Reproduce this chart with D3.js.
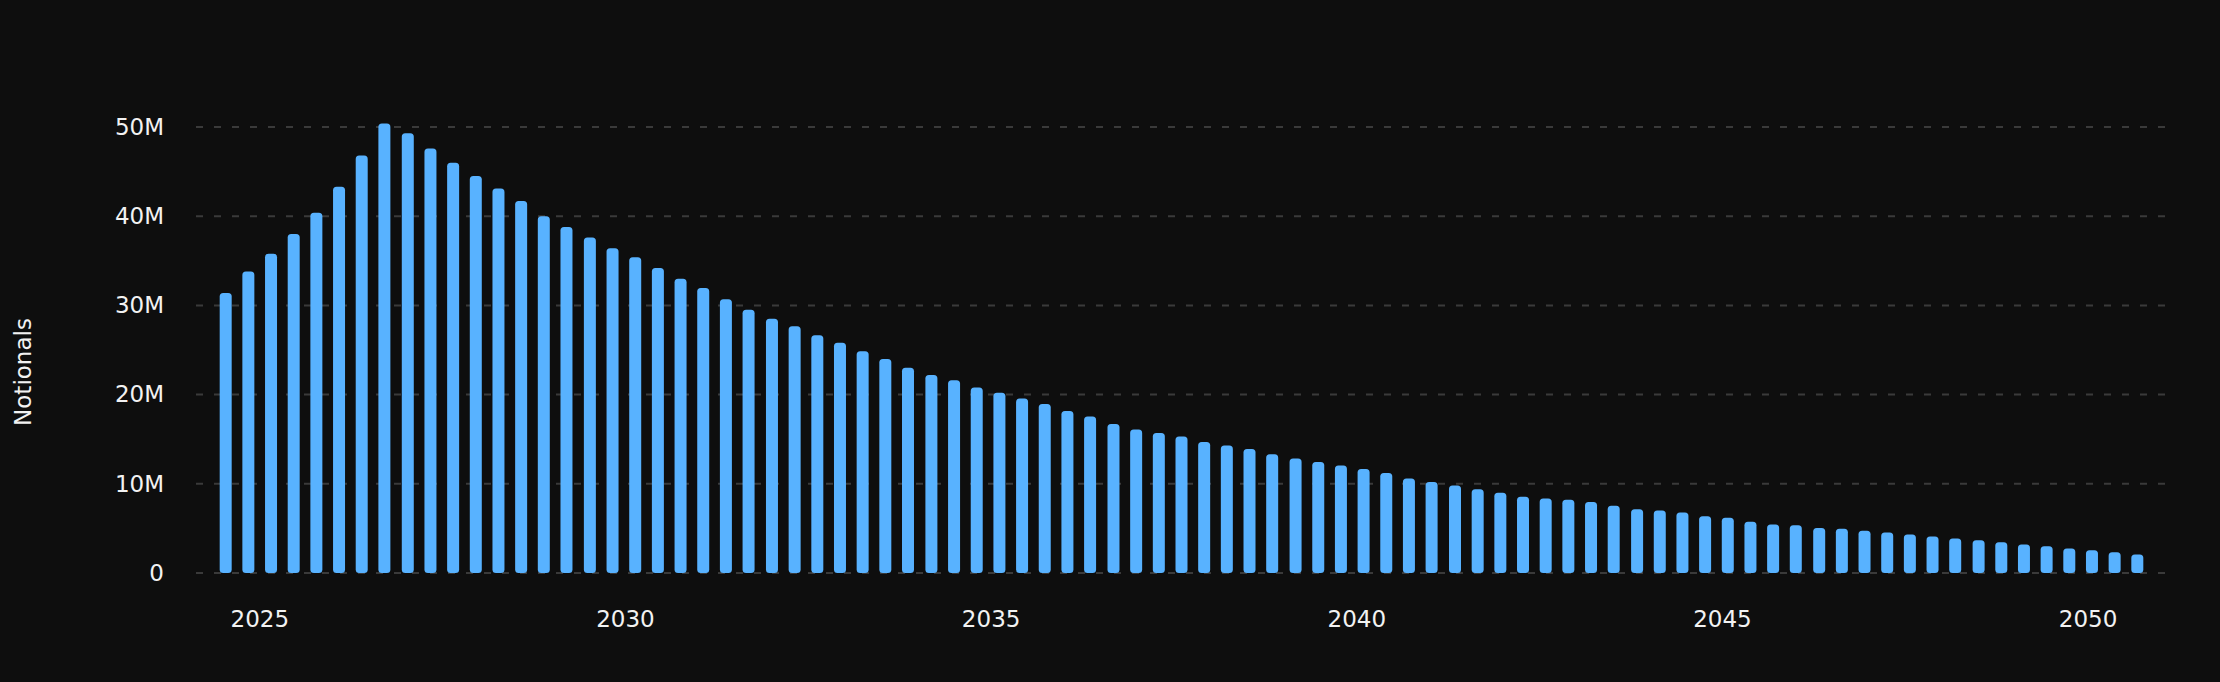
<!DOCTYPE html>
<html>
<head>
<meta charset="utf-8">
<script src="https://cdn.jsdelivr.net/npm/d3@7"></script>
<style>
  html, body { margin: 0; padding: 0; background: #0e0e0e; }
  svg { display: block; }
</style>
</head>
<body>
<div id="chart"></div>
<script>
// payment dates as fractional years (one bar each)
const periods = [
  2024.54, 2024.85, 2025.16, 2025.47, 2025.78, 2026.09, 2026.40, 2026.71, 2027.03, 2027.34,
  2027.65, 2027.96, 2028.27, 2028.58, 2028.89, 2029.20, 2029.52, 2029.83, 2030.14, 2030.45,
  2030.76, 2031.07, 2031.38, 2031.69, 2032.01, 2032.32, 2032.63, 2032.94, 2033.25, 2033.56,
  2033.87, 2034.19, 2034.50, 2034.81, 2035.12, 2035.43, 2035.74, 2036.05, 2036.36, 2036.68,
  2036.99, 2037.30, 2037.61, 2037.92, 2038.23, 2038.54, 2038.85, 2039.17, 2039.48, 2039.79,
  2040.10, 2040.41, 2040.72, 2041.03, 2041.35, 2041.66, 2041.97, 2042.28, 2042.59, 2042.90,
  2043.21, 2043.52, 2043.84, 2044.15, 2044.46, 2044.77, 2045.08, 2045.39, 2045.70, 2046.01,
  2046.33, 2046.64, 2046.95, 2047.26, 2047.57, 2047.88, 2048.19, 2048.51, 2048.82, 2049.13,
  2049.44, 2049.75, 2050.06, 2050.37, 2050.68
];

// outstanding notional per period, in millions
const notionalsM = [
  31.4, 33.8, 35.8, 38.0, 40.4, 43.3, 46.8, 50.4, 49.3, 47.6,
  46.0, 44.5, 43.1, 41.7, 40.0, 38.8, 37.6, 36.4, 35.4, 34.2,
  33.0, 31.95, 30.7, 29.5, 28.5, 27.65, 26.65, 25.8, 24.85, 24.0,
  23.0, 22.2, 21.6, 20.8, 20.2, 19.55, 18.95, 18.15, 17.55, 16.7,
  16.1, 15.7, 15.3, 14.7, 14.3, 13.9, 13.3, 12.85, 12.45, 12.05,
  11.65, 11.2, 10.6, 10.2, 9.8, 9.4, 9.0, 8.55, 8.35, 8.2,
  7.95, 7.55, 7.15, 7.0, 6.78, 6.37, 6.18, 5.75, 5.45, 5.35,
  5.04, 4.96, 4.73, 4.55, 4.33, 4.1, 3.87, 3.66, 3.44, 3.2,
  2.99, 2.76, 2.55, 2.32, 2.08
];

const yTicks = [0, 10e6, 20e6, 30e6, 40e6, 50e6];
const xTicks = [2025, 2030, 2035, 2040, 2045, 2050];
const yLabel = "Notionals";

const data = periods.map((t, i) => ({ t, value: notionalsM[i] * 1e6 }));

const width = 2220;
const height = 682;
const margin = { top: 127, right: 53, bottom: 109, left: 196 };
const innerW = width - margin.left - margin.right;
const innerH = height - margin.top - margin.bottom;

const font = "'DejaVu Sans', Inter, sans-serif";
const fontSize = "23px";

const svg = d3.select("#chart").append("svg")
  .attr("width", width)
  .attr("height", height)
  .style("background", "#0e0e0e");

const g = svg.append("g")
  .attr("transform", `translate(${margin.left},${margin.top})`);

// a little room either side of the first / last bar
const pad = 0.406;
const x = d3.scaleLinear()
  .domain([d3.min(periods) - pad, d3.max(periods) + pad])
  .range([0, innerW]);

const y = d3.scaleLinear()
  .domain([0, d3.max(yTicks)])
  .range([innerH, 0]);

// dashed grid
g.append("g")
  .selectAll("line")
  .data(yTicks)
  .join("line")
  .attr("x1", 0)
  .attr("x2", innerW)
  .attr("y1", d => y(d))
  .attr("y2", d => y(d))
  .attr("stroke", "#3a3a3a")
  .attr("stroke-width", 2)
  .attr("stroke-dasharray", "7,11");

// bars
const barW = 12;
g.selectAll(".bar")
  .data(data)
  .join("rect")
  .attr("class", "bar")
  .attr("x", d => x(d.t) - barW / 2)
  .attr("y", d => y(d.value))
  .attr("width", barW)
  .attr("height", d => y(0) - y(d.value))
  .attr("rx", 3.5)
  .attr("fill", "#58b2ff");

// axes (labels only)
const yAxis = g.append("g")
  .call(d3.axisLeft(y)
    .tickValues(yTicks)
    .tickFormat(d3.format("~s"))
    .tickSize(0)
    .tickPadding(32));

const xAxis = g.append("g")
  .attr("transform", `translate(0,${innerH})`)
  .call(d3.axisBottom(x)
    .tickValues(xTicks)
    .tickFormat(d3.format("d"))
    .tickSize(0)
    .tickPadding(38));

[yAxis, xAxis].forEach(ax => {
  ax.select(".domain").remove();
  ax.selectAll("text")
    .attr("fill", "#f2f2f2")
    .style("font-family", font)
    .style("font-size", fontSize);
});

// y axis title
svg.append("text")
  .attr("transform", `translate(23,${margin.top + innerH / 2 + 22}) rotate(-90)`)
  .attr("text-anchor", "middle")
  .attr("dominant-baseline", "central")
  .attr("fill", "#f2f2f2")
  .style("font-family", font)
  .style("font-size", fontSize)
  .text(yLabel);
</script>
</body>
</html>
